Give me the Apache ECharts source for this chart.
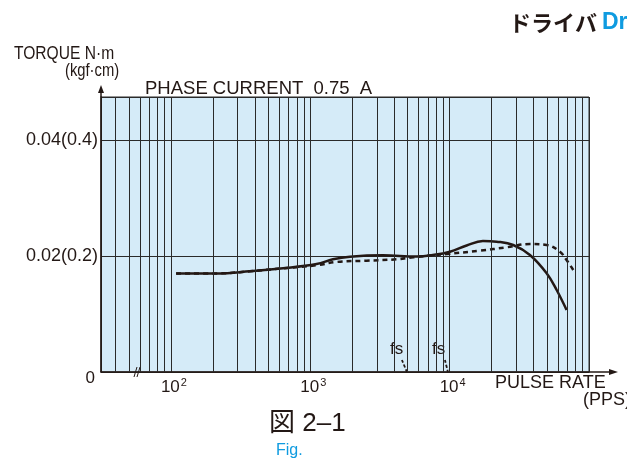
<!DOCTYPE html>
<html>
<head>
<meta charset="utf-8">
<script src="https://cdn.jsdelivr.net/npm/echarts@6/dist/echarts.min.js"></script>
<style>
html,body{margin:0;padding:0;background:#fff;}
#c{width:627px;height:461px;}
</style>
</head>
<body>
<div id="c"></div>
<script>
// ---- data ----
const solidFreq = [109, 213, 369, 637, 1110, 1454, 1925, 3320, 5794, 7586, 10050, 13240, 17330, 21730, 28590, 37670, 49650, 58600, 69060];
const solidTorque = [0.0170, 0.0170, 0.01736, 0.01788, 0.01862, 0.01943, 0.01988, 0.02012, 0.01991, 0.02017, 0.02074, 0.02181, 0.02259, 0.02247, 0.0219, 0.02017, 0.01702, 0.01414, 0.01069];
const dashedFreq = [109, 213, 369, 637, 1110, 1545, 2536, 4165, 5478, 9510, 16500, 25640, 37670, 49650, 61850, 69060, 77090];
const dashedTorque = [0.0170, 0.0170, 0.01736, 0.01788, 0.0184, 0.01897, 0.01919, 0.01943, 0.01978, 0.02034, 0.02091, 0.0215, 0.02207, 0.0219, 0.02074, 0.01931, 0.01759];
const fs1Freq = [4546, 4937];
const fs2Freq = [9250, 9721];
const fsTorque = [0.00207, 0];
const xTickValues = [100, 1000, 10000];
const xTickExps = ['2', '3', '4'];
const yTickValues = [0, 0.02, 0.04];
const yTickLabels = ['0', '0.02(0.2)', '0.04(0.4)'];
const minorGridFreq = [40, 50, 60, 70, 80, 90, 200, 300, 400, 500, 600, 700, 800, 900,
  2000, 3000, 4000, 5000, 6000, 7000, 8000, 9000, 20000, 30000, 40000, 50000, 60000, 70000, 80000, 90000];

const zip = (a, b) => a.map((v, i) => [v, b[i]]);
const FONT = "'Liberation Sans', Arial, sans-serif";
const INK = '#231815';
const BLUE = '#0f9be0';

const chart = echarts.init(document.getElementById('c'), null, {renderer: 'canvas'});
const option = {
  animation: false,
  backgroundColor: '#ffffff',
  grid: {left: 101, right: 38, top: 97, bottom: 89, show: true,
    backgroundColor: '#d5ebf8', borderColor: '#2a2a2a', borderWidth: 1},
  xAxis: {
    type: 'log', logBase: 10, min: 31.5, max: 100000,
    axisLine: {lineStyle: {color: INK, width: 1.5}},
    axisTick: {show: false},
    splitLine: {show: true, lineStyle: {color: '#2a2a2a', width: 1}},
    axisLabel: {
      margin: 5, color: INK, fontFamily: FONT, fontSize: 17,
      formatter: function (v) {
        const e = Math.round(Math.log10(v));
        const i = xTickValues.indexOf(Math.pow(10, e));
        if (i < 0 || Math.abs(Math.log10(v) - e) > 1e-6) return '';
        return '{b|10}{s|' + xTickExps[i] + '}';
      },
      rich: {
        b: {fontSize: 17, fontFamily: FONT, color: INK, padding: [0, 0, 0, 6]},
        s: {fontSize: 11, fontFamily: FONT, color: INK, verticalAlign: 'top', padding: [0, 0, 9, 1]}
      }
    }
  },
  yAxis: {
    type: 'value', min: 0, max: 0.04741, interval: 0.02,
    axisLine: {show: true, lineStyle: {color: INK, width: 1.5}},
    axisTick: {show: false},
    splitLine: {show: true, lineStyle: {color: '#2a2a2a', width: 1}},
    axisLabel: {
      margin: 3, color: INK, fontFamily: FONT, fontSize: 18,
      formatter: function (v) {
        for (let i = 0; i < yTickValues.length; i++) {
          if (Math.abs(v - yTickValues[i]) < 1e-6) {
            return i === 0 ? '{z|' + yTickLabels[i] + '}' : yTickLabels[i];
          }
        }
        return '';
      },
      rich: {z: {fontSize: 17, fontFamily: FONT, color: INK, padding: [12, 3, 0, 0]}}
    }
  },
  series: [
    {
      type: 'line', name: 'grid', data: [], silent: true,
      markLine: {
        silent: true, symbol: 'none', label: {show: false},
        lineStyle: {color: '#2a2a2a', width: 1, type: 'solid'},
        data: minorGridFreq.map(f => ({xAxis: f}))
      }
    },
    {
      type: 'line', name: 'solid', data: zip(solidFreq, solidTorque), smooth: 0.4,
      showSymbol: false, lineStyle: {color: INK, width: 2.5}
    },
    {
      type: 'line', name: 'dashed', data: zip(dashedFreq, dashedTorque), smooth: 0.4,
      showSymbol: false, lineStyle: {color: INK, width: 2.5, type: [5, 4]}
    },
    {
      type: 'line', name: 'fs1', data: zip(fs1Freq, fsTorque), smooth: true,
      showSymbol: false, lineStyle: {color: INK, width: 1.8, type: [3, 2]}
    },
    {
      type: 'line', name: 'fs2', data: zip(fs2Freq, fsTorque), smooth: true,
      showSymbol: false, lineStyle: {color: INK, width: 1.8, type: [3, 2]}
    }
  ],
  graphic: [
    {type: 'text', x: 14, y: 44, scaleX: 0.82, style: {text: 'TORQUE N·m', fontSize: 19, fontFamily: FONT, fill: INK, textAlign: 'left', textVerticalAlign: 'top'}},
    {type: 'text', x: 65, y: 62, scaleX: 0.82, style: {text: '(kgf·cm)', fontSize: 18, fontFamily: FONT, fill: INK, textAlign: 'left', textVerticalAlign: 'top'}},
    {type: 'text', x: 145, y: 79, style: {text: 'PHASE CURRENT  0.75  A', fontSize: 18.5, fontFamily: FONT, fill: INK, textAlign: 'left', textVerticalAlign: 'top'}},
    {type: 'text', x: 509, y: 11, style: {
      text: '{j|ドライバ }{d|Dr}', textAlign: 'left', textVerticalAlign: 'top',
      rich: {
        j: {fontSize: 22, fontWeight: 'bold', fontFamily: "'Noto Sans CJK JP', sans-serif", fill: INK},
        d: {fontSize: 23, fontWeight: 'bold', fontFamily: FONT, fill: BLUE}
      }
    }},
    {type: 'text', x: 269, y: 411, style: {text: '図 2–1', fontSize: 26, fontFamily: "'Liberation Sans', 'Noto Sans CJK JP', sans-serif", fill: INK, textAlign: 'left', textVerticalAlign: 'top'}},
    {type: 'text', x: 276, y: 443, style: {text: 'Fig.', fontSize: 16, fontFamily: FONT, fill: BLUE, textAlign: 'left', textVerticalAlign: 'top'}},
    {type: 'text', x: 495, y: 374, style: {text: 'PULSE RATE', fontSize: 18, fontFamily: FONT, fill: INK, textAlign: 'left', textVerticalAlign: 'top'}},
    {type: 'text', x: 583, y: 391, style: {text: '(PPS)', fontSize: 18, fontFamily: FONT, fill: INK, textAlign: 'left', textVerticalAlign: 'top'}},
    {type: 'text', x: 390, y: 341, style: {text: 'fs', fontSize: 17, fontFamily: FONT, fill: INK, textAlign: 'left', textVerticalAlign: 'top'}},
    {type: 'text', x: 432, y: 341, style: {text: 'fs', fontSize: 17, fontFamily: FONT, fill: INK, textAlign: 'left', textVerticalAlign: 'top'}},
    // axis arrow extensions
    {type: 'line', shape: {x1: 101, y1: 97, x2: 101, y2: 90}, style: {stroke: INK, lineWidth: 1.5}},
    {type: 'polygon', shape: {points: [[101, 85], [98, 93], [104, 93]]}, style: {fill: INK}},
    {type: 'line', shape: {x1: 589, y1: 372, x2: 612, y2: 372}, style: {stroke: INK, lineWidth: 1.5}},
    {type: 'polygon', shape: {points: [[618, 372], [609, 369], [609, 375]]}, style: {fill: INK}},
    // axis break mark
    {type: 'line', shape: {x1: 134, y1: 377, x2: 137, y2: 367}, style: {stroke: INK, lineWidth: 1}},
    {type: 'line', shape: {x1: 137, y1: 377, x2: 140, y2: 367}, style: {stroke: INK, lineWidth: 1}}
  ]
};
chart.setOption(option);
</script>
</body>
</html>
